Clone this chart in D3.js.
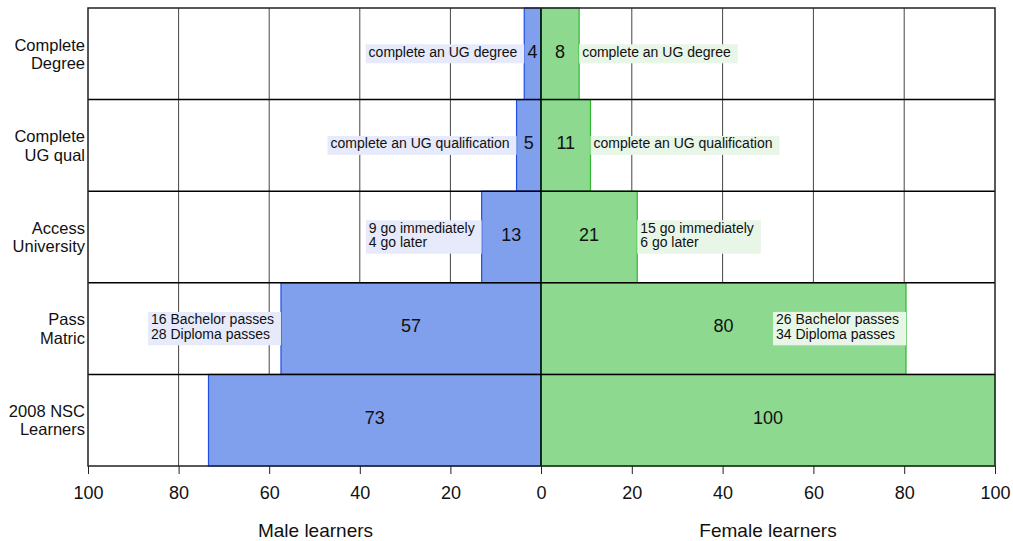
<!DOCTYPE html>
<html><head><meta charset="utf-8">
<script src="https://cdn.jsdelivr.net/npm/d3@7"></script>
<style>body{margin:0;background:#fff} svg{font-family:"Liberation Sans",Arial,sans-serif;display:block}</style>
</head><body><svg id="c" width="1013" height="541"></svg>
<script>
const categories = ["Complete\nDegree","Complete\nUG qual","Access\nUniversity","Pass\nMatric","2008 NSC\nLearners"];
const maleValues = [3.7, 5.4, 13.1, 57.4, 73.4];
const femaleValues = [8.4, 10.9, 21.2, 80.4, 100];
const maleNotes = [["complete an UG degree"],["complete an UG qualification"],["9 go immediately","4 go later"],["16 Bachelor passes","28 Diploma passes"],[]];
const femaleNotes = [["complete an UG degree"],["complete an UG qualification"],["15 go immediately","6 go later"],["26 Bachelor passes","34 Diploma passes"],[]];
const maleTicks = [100,80,60,40,20,0];
const femaleTicks = [20,40,60,80,100];
const axisTitles = ["Male learners","Female learners"];

const svg = d3.select("#c");
const L = 88, M = 541, R = 995, T = 8, B = 466;
const xM = d3.scaleLinear().domain([100,0]).range([L,M]);
const xF = d3.scaleLinear().domain([0,100]).range([M,R]);
const y = d3.scaleBand().domain(d3.range(categories.length)).range([T,B]);
const cy = i => y(i) + y.bandwidth()/2;

const blueFill="#809fec", blueEdge="#2050e0", greenFill="#8dd98f", greenEdge="#2fb82f";
const blueBox="#e6eafb", greenBox="#e8f6e8";

// grid
const grid = svg.append("g");
grid.selectAll("line.m").data(maleTicks.filter(d=>d>0&&d<100)).join("line")
  .attr("x1",d=>xM(d)).attr("x2",d=>xM(d)).attr("y1",T).attr("y2",B)
  .attr("stroke","#444").attr("stroke-width",1);
grid.selectAll("line.f").data(femaleTicks.filter(d=>d<100)).join("line")
  .attr("x1",d=>xF(d)).attr("x2",d=>xF(d)).attr("y1",T).attr("y2",B)
  .attr("stroke","#444").attr("stroke-width",1);

// bars
svg.append("g").selectAll("rect").data(maleValues).join("rect")
  .attr("x",d=>xM(d)).attr("width",d=>M-xM(d))
  .attr("y",(d,i)=>y(i)).attr("height",y.bandwidth())
  .attr("fill",blueFill).attr("stroke",blueEdge).attr("stroke-width",1.2);
svg.append("g").selectAll("rect").data(femaleValues).join("rect")
  .attr("x",M).attr("width",d=>xF(d)-M)
  .attr("y",(d,i)=>y(i)).attr("height",y.bandwidth())
  .attr("fill",greenFill).attr("stroke",greenEdge).attr("stroke-width",1.2);

// row lines
svg.append("g").selectAll("line").data(d3.range(1,categories.length)).join("line")
  .attr("x1",L).attr("x2",R).attr("y1",i=>y(i)).attr("y2",i=>y(i))
  .attr("stroke","#000").attr("stroke-width",1.5);
// center line
svg.append("line").attr("x1",M).attr("x2",M).attr("y1",T).attr("y2",B)
  .attr("stroke","#000").attr("stroke-width",1.5);
// border
svg.append("rect").attr("x",L).attr("y",T).attr("width",R-L).attr("height",B-T)
  .attr("fill","none").attr("stroke","#222").attr("stroke-width",1.5);

// value labels
const vl = svg.append("g").attr("font-size",18).attr("fill","#111").attr("text-anchor","middle");
maleValues.forEach((v,i)=>{
  vl.append("text").attr("x",(xM(v)+M)/2).attr("y",cy(i)-2.5).attr("dy","0.35em").text(Math.round(v));
});
femaleValues.forEach((v,i)=>{
  vl.append("text").attr("x",(xF(v)+M)/2).attr("y",cy(i)-2.5).attr("dy","0.35em").text(Math.round(v));
});

// notes
const padL=3, padR=7, lh=14.4;
function note(lines, i, anchorX, side){
  if(!lines.length) return;
  const g = svg.append("g");
  const n = lines.length;
  const h = 19 + (n-1)*lh;
  const rect = g.append("rect");
  const texts = lines.map((s,k)=> g.append("text").attr("font-size",14).attr("fill","#111")
      .attr("y", cy(i)+2.7+(k-(n-1)/2)*lh).text(s));
  const w = d3.max(texts, t=>t.node().getComputedTextLength()) + padL + padR;
  let x0;
  if(side==="left") x0 = anchorX - w;
  else x0 = (anchorX + w > R) ? anchorX - w : anchorX;
  rect.attr("x",x0).attr("y",cy(i)-h/2).attr("width",w).attr("height",h)
      .attr("fill", side==="left"?blueBox:greenBox);
  texts.forEach(t=>t.attr("x",x0+padL));
}
maleNotes.forEach((ls,i)=>note(ls,i,xM(maleValues[i]),"left"));
femaleNotes.forEach((ls,i)=>note(ls,i,xF(femaleValues[i]),"right"));

// category labels
const cl = svg.append("g").attr("font-size",16.5).attr("fill","#111").attr("text-anchor","end");
categories.forEach((c,i)=>{
  const lines=c.split("\n"); const n=lines.length;
  lines.forEach((s,k)=>cl.append("text").attr("x",85).attr("y",cy(i)+6+(k-(n-1)/2)*18.5).text(s));
});

// axes
const axM = d3.axisBottom(xM).tickValues(maleTicks).tickSize(8).tickPadding(12).tickFormat(d3.format("d"));
const axF = d3.axisBottom(xF).tickValues(femaleTicks).tickSize(8).tickPadding(12).tickFormat(d3.format("d"));
[axM,axF].forEach(ax=>{
  const g = svg.append("g").attr("transform",`translate(0,${B})`).call(ax);
  g.select(".domain").remove();
  g.selectAll(".tick line").attr("stroke","#222");
  g.selectAll("text").attr("font-size",18).attr("fill","#111").attr("font-family","Liberation Sans, Arial, sans-serif");
});

// axis titles
svg.append("text").attr("x",(L+M)/2+1).attr("y",536.5).attr("text-anchor","middle")
  .attr("font-size",19).attr("fill","#111").text(axisTitles[0]);
svg.append("text").attr("x",(M+R)/2).attr("y",536.5).attr("text-anchor","middle")
  .attr("font-size",19).attr("fill","#111").text(axisTitles[1]);
</script></body></html>
